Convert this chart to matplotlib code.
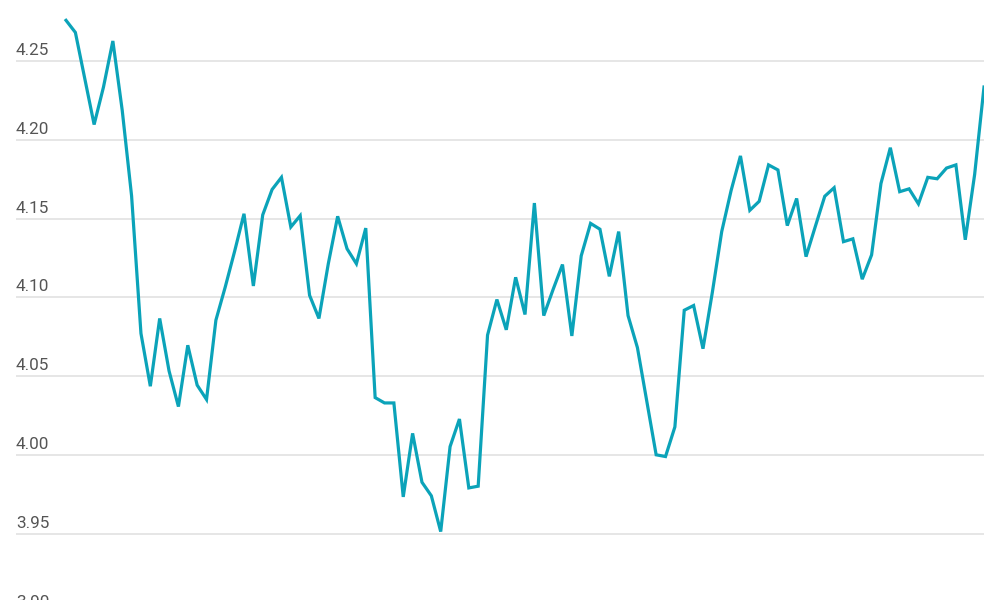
import matplotlib
matplotlib.use("Agg")
import matplotlib.pyplot as plt
import matplotlib.transforms as mtransforms
import numpy as np

values = [
    4.2758, 4.2681, 4.2389, 4.2097, 4.2335, 4.2627, 4.2187, 4.1644, 4.0772, 4.0437,
    4.0867, 4.0534, 4.0308, 4.0697, 4.0444, 4.0353, 4.0856, 4.1067, 4.1293, 4.1531,
    4.1073, 4.1524, 4.1685, 4.1762, 4.1447, 4.1519, 4.1014, 4.0867, 4.1214, 4.1515,
    4.1309, 4.1214, 4.1440, 4.0365, 4.0331, 4.0331, 3.9735, 4.0138, 3.9828, 3.9742,
    3.9515, 4.0054, 4.0229, 3.9792, 3.9803, 4.0761, 4.0987, 4.0795, 4.1128, 4.0892,
    4.1599, 4.0885, 4.1051, 4.1209, 4.0756, 4.1264, 4.1470, 4.1433, 4.1134, 4.1418,
    4.0885, 4.0682, 4.0342, 4.0002, 3.9991, 4.0179, 4.0919, 4.0949, 4.0675, 4.1033,
    4.1418, 4.1678, 4.1898, 4.1553, 4.1610, 4.1841, 4.1809, 4.1456, 4.1628, 4.1259,
    4.1452, 4.1642, 4.1696, 4.1354, 4.1372, 4.1116, 4.1270, 4.1723, 4.1950, 4.1671,
    4.1689, 4.1594, 4.1762, 4.1753, 4.1821, 4.1841, 4.1366, 4.1780, 4.2335,
]
ytick_values = [3.90, 3.95, 4.00, 4.05, 4.10, 4.15, 4.20, 4.25]
ytick_labels = ["3.90", "3.95", "4.00", "4.05", "4.10", "4.15", "4.20", "4.25"]

x = np.arange(len(values))

fig = plt.figure(figsize=(10, 6), dpi=100)
fig.patch.set_facecolor("white")
ax = fig.add_axes([0.016, 0.0, 0.968, 1.0])
ax.set_facecolor("white")

for v in ytick_values:
    ax.axhline(v, color="#e6e6e6", linewidth=1.4, zorder=1)

ax.plot(x, values, color="#0ba3b9", linewidth=2.3, solid_joinstyle="miter", zorder=3)

ax.set_xlim(-5.34, len(values) - 1)
ax.set_ylim(3.9081, 4.2887)

for spine in ax.spines.values():
    spine.set_visible(False)
ax.set_xticks([])
ax.set_yticks([])

trans = mtransforms.offset_copy(
    mtransforms.blended_transform_factory(ax.transAxes, ax.transData),
    fig=fig, x=0, y=3, units="dots")
for v, lab in zip(ytick_values, ytick_labels):
    ax.text(0.0, v, lab, transform=trans, ha="left", va="bottom",
            fontsize=12.3, color="#555555", family="Roboto", zorder=2,
            clip_on=False)

fig.savefig("out.png", dpi=100, facecolor="white")
